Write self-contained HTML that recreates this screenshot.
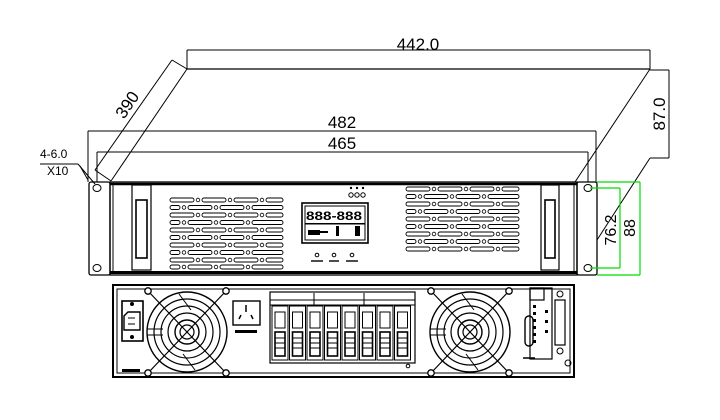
<!DOCTYPE html>
<html><head><meta charset="utf-8"><style>
html,body{margin:0;padding:0;background:#fff;}
svg{display:block;}
text{font-family:"Liberation Sans",sans-serif;fill:#000;}
</style></head><body>
<svg width="720" height="420" viewBox="0 0 720 420" xmlns="http://www.w3.org/2000/svg">
<defs>
<g id="vrow">
  <rect x="0" y="0" width="24" height="4" rx="2" fill="none" stroke="#000" stroke-width="0.9"/>
  <circle cx="28" cy="2" r="1.8" fill="none" stroke="#000" stroke-width="0.8"/>
  <rect x="32" y="0" width="24" height="4" rx="2" fill="none" stroke="#000" stroke-width="0.9"/>
  <circle cx="60" cy="2" r="1.8" fill="none" stroke="#000" stroke-width="0.8"/>
  <rect x="64" y="0" width="24" height="4" rx="2" fill="none" stroke="#000" stroke-width="0.9"/>
  <circle cx="92" cy="2" r="1.8" fill="none" stroke="#000" stroke-width="0.8"/>
  <rect x="96" y="0" width="17" height="4" rx="2" fill="none" stroke="#000" stroke-width="0.9"/>
</g>
<g id="vrow2">
  <rect x="0" y="0" width="10" height="4" rx="2" fill="none" stroke="#000" stroke-width="0.9"/>
  <circle cx="14" cy="2" r="1.8" fill="none" stroke="#000" stroke-width="0.8"/>
  <rect x="18" y="0" width="24" height="4" rx="2" fill="none" stroke="#000" stroke-width="0.9"/>
  <circle cx="46" cy="2" r="1.8" fill="none" stroke="#000" stroke-width="0.8"/>
  <rect x="50" y="0" width="24" height="4" rx="2" fill="none" stroke="#000" stroke-width="0.9"/>
  <circle cx="78" cy="2" r="1.8" fill="none" stroke="#000" stroke-width="0.8"/>
  <rect x="82" y="0" width="31" height="4" rx="2" fill="none" stroke="#000" stroke-width="0.9"/>
</g>
<g id="fan">
  <circle r="40" fill="none" stroke="#000" stroke-width="1.4"/>
  <circle r="33" fill="none" stroke="#000" stroke-width="1.2"/>
  <circle r="26" fill="none" stroke="#000" stroke-width="1.2"/>
  <circle r="19" fill="none" stroke="#000" stroke-width="1.2"/>
  <circle r="12" fill="none" stroke="#000" stroke-width="1.4"/>
  <circle r="7" fill="none" stroke="#000" stroke-width="1.2"/>
  <line x1="-39" y1="-41" x2="39" y2="41" stroke="#000" stroke-width="1.2"/>
  <line x1="39" y1="-41" x2="-39" y2="41" stroke="#000" stroke-width="1.2"/>
  <line x1="-40" y1="-3" x2="-24" y2="-3" stroke="#000"/>
  <line x1="-40" y1="3" x2="-24" y2="3" stroke="#000"/>
  <line x1="-8" y1="-38" x2="4" y2="-22" stroke="#000"/>
  <line x1="8" y1="38" x2="-4" y2="22" stroke="#000"/>
  <g fill="#fff" stroke="#000" stroke-width="1.3">
  <circle cx="-39" cy="-41" r="3.2"/><circle cx="39" cy="-41" r="3.2"/>
  <circle cx="-39" cy="41" r="3.2"/><circle cx="39" cy="41" r="3.2"/></g>
</g>
<g id="brk">
  <rect x="0" y="0" width="16" height="54" fill="none" stroke="#000" stroke-width="1"/>
  <rect x="3" y="6" width="10" height="16" fill="none" stroke="#000" stroke-width="1"/>
  <rect x="3" y="26" width="10" height="24" fill="none" stroke="#000" stroke-width="1.6"/>
  <line x1="3" y1="32" x2="13" y2="32" stroke="#000"/>
  <line x1="3" y1="37" x2="13" y2="37" stroke="#000"/>
  <line x1="3" y1="42" x2="13" y2="42" stroke="#000"/>
</g>
</defs>

<g stroke="#000" stroke-width="1" fill="none">
  <!-- 442 dimension -->
  <line x1="187" y1="50" x2="650" y2="50"/>
  <line x1="187" y1="50" x2="187" y2="69"/>
  <line x1="650" y1="50" x2="650" y2="69"/>
  <!-- top back edge -->
  <line x1="187" y1="69" x2="650" y2="69" stroke-width="1.3"/>
  <line x1="187" y1="69" x2="111" y2="181"/>
  <line x1="650" y1="69" x2="575" y2="182"/>
  <line x1="650" y1="158" x2="597" y2="240"/>
  <!-- 87 dimension -->
  <line x1="650" y1="70" x2="669" y2="70"/>
  <line x1="650" y1="158" x2="669" y2="158"/>
  <line x1="669" y1="70" x2="669" y2="158"/>
  <!-- 390 dimension -->
  <line x1="172" y1="60" x2="95" y2="170"/>
  <line x1="172" y1="60" x2="187" y2="69"/>
  <line x1="95" y1="170" x2="111" y2="181"/>
  <line x1="80" y1="166" x2="88" y2="180"/>
  <!-- 482 -->
  <line x1="88" y1="131" x2="596" y2="131"/>
  <line x1="88" y1="131" x2="88" y2="182"/>
  <line x1="596" y1="131" x2="596" y2="182"/>
  <!-- 465 -->
  <line x1="97" y1="152" x2="588" y2="152"/>
  <line x1="97" y1="152" x2="97" y2="182"/>
  <line x1="588" y1="152" x2="588" y2="182"/>
  <!-- leader -->
  <line x1="40" y1="164" x2="78" y2="164"/>
  <line x1="78" y1="164" x2="95" y2="184"/>

  <!-- front ears -->
  <rect x="89" y="182" width="21" height="93" rx="2" stroke-width="1.3"/>
  <rect x="577" y="182" width="20" height="93" rx="2" stroke-width="1.3"/>
  <ellipse cx="97" cy="188" rx="4" ry="3.5"/>
  <ellipse cx="97" cy="268" rx="4" ry="3.5"/>
  <ellipse cx="588" cy="188" rx="4" ry="3.5"/>
  <ellipse cx="588" cy="268" rx="4" ry="3.5"/>
  <!-- front body -->
  <rect x="110" y="182" width="467" height="93" stroke-width="1.3"/>
  <line x1="110" y1="184" x2="577" y2="184" stroke-width="2.5"/>
  <line x1="110" y1="272.5" x2="577" y2="272.5" stroke-width="3"/>
  <line x1="113" y1="184" x2="113" y2="272"/>
  <line x1="574" y1="184" x2="574" y2="272"/>
  <!-- handles -->
  <rect x="132" y="185" width="19" height="85" stroke-width="1.2"/>
  <rect x="136" y="200" width="11" height="58" stroke-width="1.6"/>
  <rect x="541" y="185" width="18" height="85" stroke-width="1.2"/>
  <rect x="545" y="200" width="10" height="58" stroke-width="1.6"/>
  <!-- LCD -->
  <rect x="302" y="203" width="66" height="40" stroke-width="1.6"/>
  <rect x="305" y="206" width="60" height="34"/>
</g>
<!-- LCD content -->
<g fill="#000">
  <text x="306" y="220" font-size="12" font-weight="bold" font-family="Liberation Mono" textLength="56" lengthAdjust="spacingAndGlyphs">888-888</text>
  <rect x="305" y="223" width="60" height="1.5"/>
  <rect x="308" y="230" width="12" height="5"/>
  <rect x="320" y="231" width="8" height="2"/>
  <rect x="336" y="226" width="3" height="10"/>
  <rect x="355" y="226" width="5" height="10"/>
  <circle cx="351" cy="188" r="1.2"/><circle cx="357" cy="188" r="1.2"/><circle cx="363" cy="188" r="1.2"/>
</g>
<g stroke="#000" fill="none" stroke-width="1">
  <circle cx="351" cy="195" r="2.2"/><circle cx="357" cy="195" r="2.2"/><circle cx="363" cy="195" r="2.2"/>
  <circle cx="317" cy="255" r="1.8"/><circle cx="334" cy="255" r="1.8"/><circle cx="352" cy="255" r="1.8"/>
  <line x1="311" y1="261" x2="323" y2="261" stroke-width="1.4"/>
  <line x1="329" y1="261" x2="339" y2="261" stroke-width="1.4"/>
  <line x1="346" y1="261" x2="358" y2="261" stroke-width="1.4"/>
</g>
<!-- vents left -->
<g transform="translate(170,198)">
  <use href="#vrow" y="0"/><use href="#vrow2" y="7.5"/><use href="#vrow" y="15"/><use href="#vrow2" y="22.5"/>
  <use href="#vrow" y="30"/><use href="#vrow2" y="37.5"/><use href="#vrow" y="45"/><use href="#vrow2" y="52.5"/>
  <use href="#vrow" y="60"/><use href="#vrow2" y="67"/>
</g>
<!-- vents right -->
<g transform="translate(406,187)">
  <use href="#vrow" y="0"/><use href="#vrow2" y="7.5"/><use href="#vrow" y="15"/><use href="#vrow2" y="22.5"/>
  <use href="#vrow" y="30"/><use href="#vrow2" y="37.5"/><use href="#vrow" y="45"/><use href="#vrow2" y="52.5"/>
  <use href="#vrow" y="60"/>
</g>

<!-- green dims -->
<g stroke="#00dd00" stroke-width="1.2" fill="none">
  <line x1="597" y1="182" x2="640" y2="182"/>
  <line x1="597" y1="275" x2="640" y2="275"/>
  <line x1="640" y1="182" x2="640" y2="275"/>
  <line x1="590" y1="188" x2="620" y2="188"/>
  <line x1="590" y1="268" x2="620" y2="268"/>
  <line x1="620" y1="188" x2="620" y2="268"/>
</g>

<!-- texts -->
<text x="418" y="50" font-size="17" text-anchor="middle">442.0</text>
<text x="342" y="128" font-size="17" text-anchor="middle">482</text>
<text x="342" y="149" font-size="17" text-anchor="middle">465</text>
<text transform="translate(665,114) rotate(-90)" font-size="17" text-anchor="middle">87.0</text>
<text transform="translate(132,108) rotate(-56)" font-size="17" text-anchor="middle">390</text>
<text transform="translate(616,230) rotate(-90)" font-size="16" text-anchor="middle">76.2</text>
<text transform="translate(635,228) rotate(-90)" font-size="16" text-anchor="middle">88</text>
<text x="40" y="158" font-size="12" font-family="Liberation Serif">4-6.0</text>
<text x="47" y="175" font-size="12" font-family="Liberation Serif">X10</text>

<!-- back panel -->
<g stroke="#000" fill="none">
  <rect x="113" y="285" width="461" height="92" stroke-width="2"/>
  <rect x="117" y="289" width="453" height="84" stroke-width="1"/>
  <rect x="122" y="301" width="21" height="40" stroke-width="1.6"/>
  <path d="M124 316 L128 312 L140 312 L140 330 L124 330 Z" stroke-width="1.4"/>
  <line x1="128" y1="318" x2="135" y2="318"/><line x1="128" y1="324" x2="135" y2="324"/>
</g>
<circle cx="132" cy="304" r="2" fill="#000"/><circle cx="132" cy="337" r="2" fill="#000"/>
<rect x="122" y="369" width="18" height="3" fill="#000"/>
<use href="#fan" x="187" y="332"/>
<use href="#fan" x="470" y="332"/>
<g stroke="#000" fill="none">
  <rect x="233" y="301" width="27" height="24" stroke-width="1.4"/>
  <line x1="246" y1="305" x2="246" y2="312" stroke-width="1.5"/>
  <line x1="239" y1="319" x2="241" y2="315" stroke-width="1.5"/>
  <line x1="253" y1="319" x2="251" y2="315" stroke-width="1.5"/>
  <rect x="270" y="292" width="145" height="71" stroke-width="1.2"/>
  <line x1="270" y1="305" x2="415" y2="305"/>
  <line x1="270" y1="300" x2="415" y2="300"/>
  <line x1="314" y1="293" x2="314" y2="305"/><line x1="364" y1="293" x2="364" y2="305"/>
  <circle cx="408" cy="366" r="1.8"/>
  <rect x="525" y="316" width="8" height="30" rx="4" stroke-width="1.4"/>
  <line x1="523" y1="358" x2="535" y2="358" stroke-width="1.5"/>
  <rect x="530" y="288" width="22" height="71" stroke-width="1.2"/>
  <rect x="530" y="288" width="14" height="12" stroke-width="1.2"/>
  <rect x="555" y="300" width="10" height="45" stroke-width="1.2"/>
  <circle cx="560" cy="294" r="3"/>
  <circle cx="560" cy="351" r="3"/>
  <circle cx="568" cy="363" r="3"/>
</g>
<g transform="translate(272,306)">
  <use href="#brk" x="0"/><use href="#brk" x="17.5"/><use href="#brk" x="35"/><use href="#brk" x="52.5"/>
  <use href="#brk" x="70"/><use href="#brk" x="87.5"/><use href="#brk" x="105"/><use href="#brk" x="122.5"/>
</g>
<g fill="#000">
  <rect x="235" y="330" width="22" height="3"/>
  <rect x="533" y="305" width="3" height="3"/><rect x="533" y="312" width="3" height="3"/><rect x="533" y="319" width="3" height="3"/>
  <rect x="533" y="326" width="3" height="3"/><rect x="533" y="333" width="3" height="3"/><rect x="533" y="340" width="3" height="3"/>
  <rect x="545" y="310" width="3" height="3"/><rect x="545" y="320" width="3" height="3"/><rect x="545" y="330" width="3" height="3"/>
</g>
</svg>
</body></html>
